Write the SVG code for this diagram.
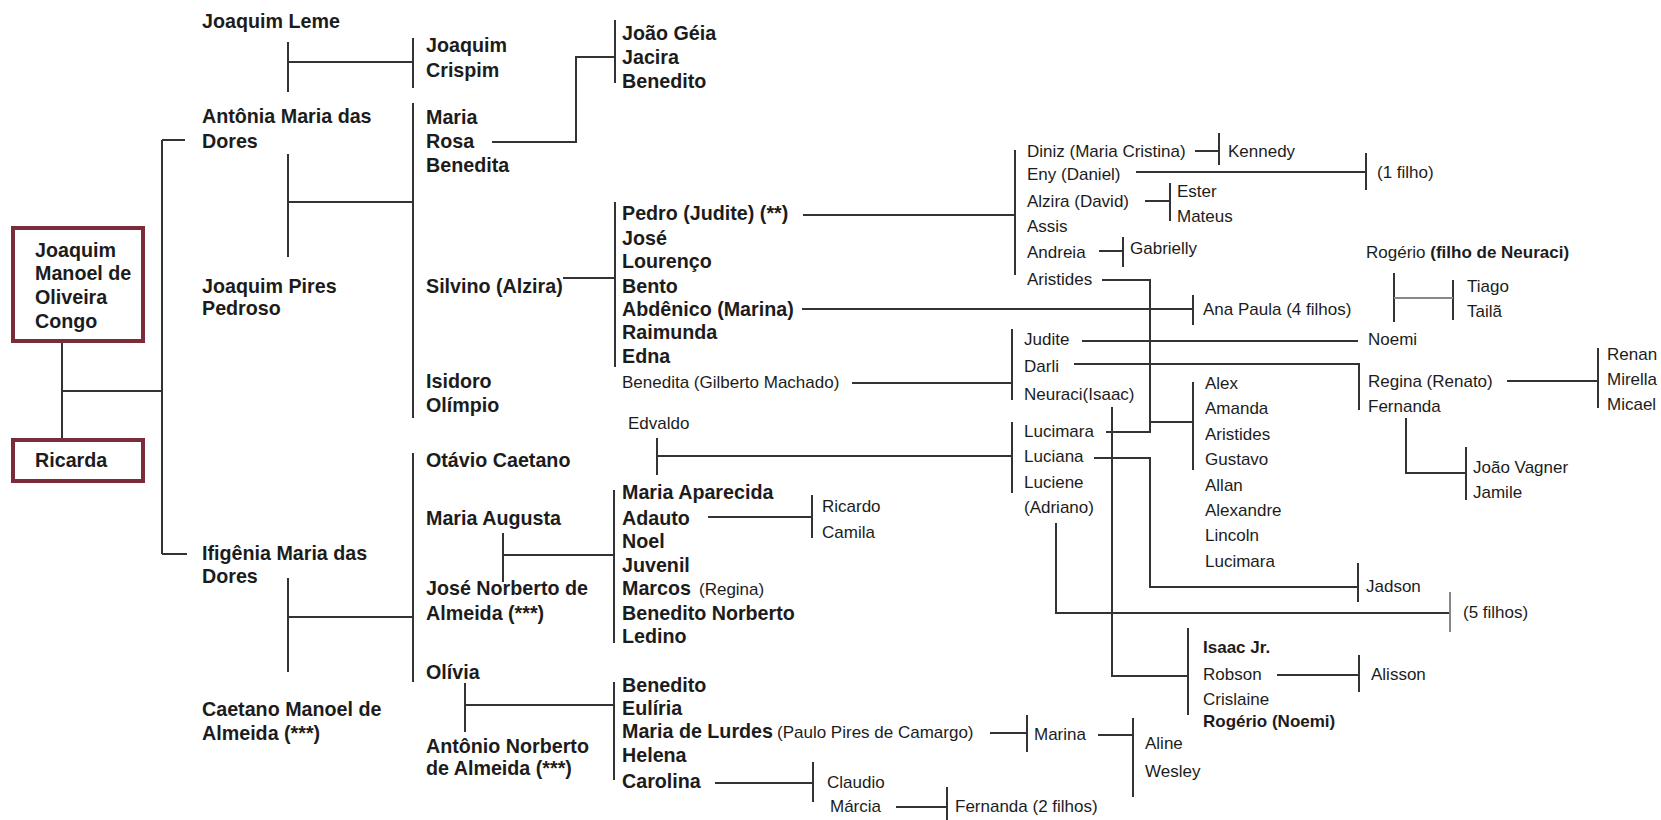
<svg xmlns="http://www.w3.org/2000/svg" width="1661" height="820" viewBox="0 0 1661 820">
<style>
text{font-family:"Liberation Sans",Arial,sans-serif;fill:#1c1c1c}
.b{font-size:19.7px;font-weight:bold}
.r{font-size:17px}
.rb{font-size:17px;font-weight:bold}
.ln{fill:none;stroke:#333;stroke-width:2}
.lg{fill:none;stroke:#888;stroke-width:2}
.box{fill:#fff;stroke:#7b2c3b;stroke-width:4}
</style>
<rect width="1661" height="820" fill="#fff"/>
<g id="connectors">
<path class="ln" d="M62 341V440M62 391H162M162 140V554M162 140H185M162 554H187"/>
<path class="ln" d="M288 42V92M288 62H413M413 38V88"/>
<path class="ln" d="M288 154V257M288 202H413M413 103V418"/>
<path class="ln" d="M288 578V672M288 617H413M413 453V682"/>
<path class="ln" d="M492 142H576V57H615M615 20V83"/>
<path class="ln" d="M563 278H615M615 202V367"/>
<path class="ln" d="M803 215H1015M1015 150V275"/>
<path class="ln" d="M1195 151H1219M1219 133V165"/>
<path class="ln" d="M1136 172H1366M1366 153V190"/>
<path class="ln" d="M1145 201H1170M1170 183V221"/>
<path class="ln" d="M1099 251H1123M1123 237V267"/>
<path class="ln" d="M1102 280H1150V432H1106M1150 422H1193M1193 382V470"/>
<path class="ln" d="M802 309H1193M1193 295V325"/>
<path class="ln" d="M1082 341H1358"/>
<path class="ln" d="M1074 364H1359V410"/>
<path class="ln" d="M852 383H1012M1012 329V400"/>
<path class="ln" d="M1112 407V676H1188M1188 628V715"/>
<path class="ln" d="M1094 458H1150V587H1358M1358 563V602"/>
<path class="ln" d="M657 438V475M657 456H1012M1012 422V493"/>
<path class="ln" d="M1056 523V613H1450"/>
<path class="lg" d="M1450 592V632"/>
<path class="ln" d="M1277 675H1359M1359 655V692"/>
<path class="ln" d="M1394 273V322M1453 280V320"/>
<path class="lg" d="M1394 298H1453"/>
<path class="ln" d="M1507 381H1598M1598 348V408"/>
<path class="ln" d="M1406 418V473H1466M1466 447V500"/>
<path class="ln" d="M503 533V582M503 555H614M614 490V643"/>
<path class="ln" d="M708 517H812M812 495V538"/>
<path class="ln" d="M465 683V732M465 705H614M614 682V780"/>
<path class="ln" d="M990 733H1027M1027 715V752"/>
<path class="ln" d="M1098 735H1133M1133 718V797"/>
<path class="ln" d="M715 783H813M813 762V802"/>
<path class="ln" d="M896 807H947M947 787V820"/>
</g>
<g id="n-joaquim-manoel"><rect class="box" x="13" y="228" width="130" height="113"/>
<text class="b" x="35" y="257">Joaquim</text><text class="b" x="35" y="280">Manoel de</text><text class="b" x="35" y="304">Oliveira</text><text class="b" x="35" y="328">Congo</text></g>
<g id="n-ricarda"><rect class="box" x="13" y="440" width="130" height="41"/><text class="b" x="35" y="467">Ricarda</text></g>
<g id="n-joaquim-leme"><text class="b" x="202" y="28">Joaquim Leme</text></g>
<g id="n-antonia"><text class="b" x="202" y="123">Antônia Maria das</text><text class="b" x="202" y="148">Dores</text></g>
<g id="n-joaquim-pires"><text class="b" x="202" y="293">Joaquim Pires</text><text class="b" x="202" y="315">Pedroso</text></g>
<g id="n-ifigenia"><text class="b" x="202" y="560">Ifigênia Maria das</text><text class="b" x="202" y="583">Dores</text></g>
<g id="n-caetano"><text class="b" x="202" y="716">Caetano Manoel de</text><text class="b" x="202" y="740">Almeida (***)</text></g>
<g id="n-joaquim-crispim"><text class="b" x="426" y="52">Joaquim</text><text class="b" x="426" y="77">Crispim</text></g>
<g id="n-maria-rosa"><text class="b" x="426" y="124">Maria</text><text class="b" x="426" y="148">Rosa</text><text class="b" x="426" y="172">Benedita</text></g>
<g id="n-silvino"><text class="b" x="426" y="293">Silvino (Alzira)</text></g>
<g id="n-isidoro"><text class="b" x="426" y="388">Isidoro</text><text class="b" x="426" y="412">Olímpio</text></g>
<g id="n-otavio"><text class="b" x="426" y="467">Otávio Caetano</text></g>
<g id="n-maria-augusta"><text class="b" x="426" y="525">Maria Augusta</text></g>
<g id="n-jose-norberto"><text class="b" x="426" y="595">José Norberto de</text><text class="b" x="426" y="620">Almeida (***)</text></g>
<g id="n-olivia"><text class="b" x="426" y="679">Olívia</text></g>
<g id="n-antonio-norberto"><text class="b" x="426" y="753">Antônio Norberto</text><text class="b" x="426" y="775">de Almeida (***)</text></g>
<g id="n-joao-geia"><text class="b" x="622" y="40">João Géia</text><text class="b" x="622" y="64">Jacira</text><text class="b" x="622" y="88">Benedito</text></g>
<g id="n-pedro"><text class="b" x="622" y="220">Pedro (Judite) (**)</text><text class="b" x="622" y="245">José</text><text class="b" x="622" y="268">Lourenço</text><text class="b" x="622" y="293">Bento</text><text class="b" x="622" y="316">Abdênico (Marina)</text><text class="b" x="622" y="339">Raimunda</text><text class="b" x="622" y="363">Edna</text></g>
<g id="n-benedita-gilberto"><text class="r" x="622" y="388">Benedita (Gilberto Machado)</text></g>
<g id="n-edvaldo"><text class="r" x="628" y="429">Edvaldo</text></g>
<g id="n-maria-aparecida"><text class="b" x="622" y="499">Maria Aparecida</text><text class="b" x="622" y="525">Adauto</text><text class="b" x="622" y="548">Noel</text><text class="b" x="622" y="572">Juvenil</text><text class="b" x="622" y="595">Marcos</text><text class="r" x="699" y="595">(Regina)</text><text class="b" x="622" y="620">Benedito Norberto</text><text class="b" x="622" y="643">Ledino</text></g>
<g id="n-ricardo"><text class="r" x="822" y="512">Ricardo</text><text class="r" x="822" y="538">Camila</text></g>
<g id="n-benedito-2"><text class="b" x="622" y="692">Benedito</text><text class="b" x="622" y="715">Eulíria</text><text class="b" x="622" y="738">Maria de Lurdes</text><text class="r" x="777" y="738">(Paulo Pires de Camargo)</text><text class="b" x="622" y="762">Helena</text><text class="b" x="622" y="788">Carolina</text></g>
<g id="n-claudio"><text class="r" x="827" y="788">Claudio</text><text class="r" x="830" y="812">Márcia</text></g>
<g id="n-fernanda-2"><text class="r" x="955" y="812">Fernanda (2 filhos)</text></g>
<g id="n-marina"><text class="r" x="1034" y="740">Marina</text></g>
<g id="n-aline"><text class="r" x="1145" y="749">Aline</text><text class="r" x="1145" y="777">Wesley</text></g>
<g id="n-diniz"><text class="r" x="1027" y="157">Diniz (Maria Cristina)</text><text class="r" x="1027" y="180">Eny (Daniel)</text><text class="r" x="1027" y="207">Alzira (David)</text><text class="r" x="1027" y="232">Assis</text><text class="r" x="1027" y="258">Andreia</text><text class="r" x="1027" y="285">Aristides</text></g>
<g id="n-kennedy"><text class="r" x="1228" y="157">Kennedy</text></g>
<g id="n-1filho"><text class="r" x="1377" y="178">(1 filho)</text></g>
<g id="n-ester"><text class="r" x="1177" y="197">Ester</text><text class="r" x="1177" y="222">Mateus</text></g>
<g id="n-gabrielly"><text class="r" x="1130" y="254">Gabrielly</text></g>
<g id="n-ana-paula"><text class="r" x="1203" y="315">Ana Paula  (4 filhos)</text></g>
<g id="n-judite"><text class="r" x="1024" y="345">Judite</text><text class="r" x="1024" y="372">Darli</text><text class="r" x="1024" y="400">Neuraci(Isaac)</text></g>
<g id="n-lucimara"><text class="r" x="1024" y="437">Lucimara</text><text class="r" x="1024" y="462">Luciana</text><text class="r" x="1024" y="488">Luciene</text><text class="r" x="1024" y="513">(Adriano)</text></g>
<g id="n-alex"><text class="r" x="1205" y="389">Alex</text><text class="r" x="1205" y="414">Amanda</text><text class="r" x="1205" y="440">Aristides</text><text class="r" x="1205" y="465">Gustavo</text><text class="r" x="1205" y="491">Allan</text><text class="r" x="1205" y="516">Alexandre</text><text class="r" x="1205" y="541">Lincoln</text><text class="r" x="1205" y="567">Lucimara</text></g>
<g id="n-jadson"><text class="r" x="1366" y="592">Jadson</text></g>
<g id="n-5filhos"><text class="r" x="1463" y="618">(5 filhos)</text></g>
<g id="n-isaac-jr"><text class="rb" x="1203" y="653">Isaac Jr.</text><text class="r" x="1203" y="680">Robson</text><text class="r" x="1203" y="705">Crislaine</text><text class="rb" x="1203" y="727">Rogério (Noemi)</text></g>
<g id="n-alisson"><text class="r" x="1371" y="680">Alisson</text></g>
<g id="n-rogerio"><text class="r" x="1366" y="258">Rogério <tspan font-weight="bold">(filho de Neuraci)</tspan></text></g>
<g id="n-tiago"><text class="r" x="1467" y="292">Tiago</text><text class="r" x="1467" y="317">Tailã</text></g>
<g id="n-noemi"><text class="r" x="1368" y="345">Noemi</text></g>
<g id="n-regina"><text class="r" x="1368" y="387">Regina (Renato)</text><text class="r" x="1368" y="412">Fernanda</text></g>
<g id="n-renan"><text class="r" x="1607" y="360">Renan</text><text class="r" x="1607" y="385">Mirella</text><text class="r" x="1607" y="410">Micael</text></g>
<g id="n-joao-vagner"><text class="r" x="1473" y="473">João Vagner</text><text class="r" x="1473" y="498">Jamile</text></g>
</svg>
